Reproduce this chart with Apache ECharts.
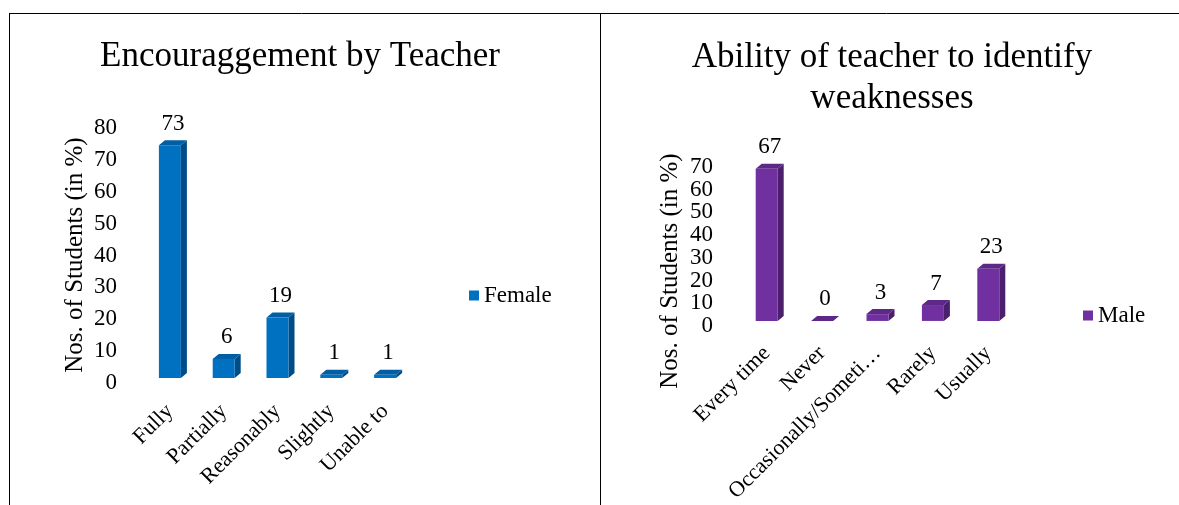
<!DOCTYPE html>
<html>
<head>
<meta charset="utf-8">
<script src="https://cdn.jsdelivr.net/npm/echarts@6/dist/echarts.min.js"></script>
<style>
  html, body { margin: 0; padding: 0; background: #fff; }
  #chart { width: 1179px; height: 505px; }
</style>
</head>
<body>
<div id="chart"></div>
<script>
const encCategories = ['Fully', 'Partially', 'Reasonably', 'Slightly', 'Unable to']
const encFemale = [73, 6, 19, 1, 1]
const encTicks = [0, 10, 20, 30, 40, 50, 60, 70, 80]

const abilityCategories = ['Every time', 'Never', 'Occasionally/Someti…', 'Rarely', 'Usually']
const abilityMale = [67, 0, 3, 7, 23]
const abilityTicks = [0, 10, 20, 30, 40, 50, 60, 70]

const FONT = '"Liberation Serif", "Times New Roman", serif'

// Excel-style 3D column: front face, dark side, top, value label on top
function bar3d(front, side, top) {
  return function (params, api) {
    const v = api.value(1)
    const p = api.coord([api.value(0), v])
    const p0 = api.coord([api.value(0), 0])
    const w = 22, dx = 6, dy = 5, lift = 5
    const x0 = p[0] - w / 2, x1 = p[0] + w / 2
    const yb = p0[1] - lift, yt = p[1] - lift
    return {
      type: 'group',
      children: [
        { type: 'polygon', shape: { points: [[x1, yb], [x1 + dx, yb - dy], [x1 + dx, yt - dy], [x1, yt]] }, style: { fill: side } },
        { type: 'polygon', shape: { points: [[x0, yt], [x0 + dx, yt - dy], [x1 + dx, yt - dy], [x1, yt]] }, style: { fill: top } },
        { type: 'rect', shape: { x: x0, y: yt, width: w, height: yb - yt }, style: { fill: front } },
        {
          type: 'text',
          style: {
            text: String(v), x: p[0] + 3, y: yt - dy - 5,
            align: 'center', verticalAlign: 'bottom',
            font: '23px ' + FONT, fill: '#000'
          }
        }
      ]
    }
  }
}

const axisLabelStyle = {
  color: '#000', fontFamily: FONT, fontSize: 23,
  showMinLabel: true, showMaxLabel: true, hideOverlap: false
}

// hidden value axis for the bars
function valueAxis(gridIndex, ticks) {
  return {
    gridIndex, type: 'value', min: ticks[0], max: ticks[ticks.length - 1], interval: 10,
    show: false, splitLine: { show: false }
  }
}

// visible tick labels (every label forced on; the right chart's 23px spacing is tight)
function tickAxis(gridIndex, ticks) {
  return {
    gridIndex, type: 'category', data: ticks.map(String), boundaryGap: false, position: 'left',
    axisLine: { show: false }, axisTick: { show: false }, splitLine: { show: false },
    axisLabel: { ...axisLabelStyle, margin: 26, interval: 0 }
  }
}

const chart = echarts.init(document.getElementById('chart'), null, { renderer: 'canvas' })

chart.setOption({
  animation: false,
  backgroundColor: '#fff',
  grid: [
    { left: 143, top: 128, width: 269, height: 255 },
    { left: 739, top: 167, width: 277, height: 161 },
  ],
  legend: [
    {
      data: ['Female'], left: 469, top: 284, padding: 0, icon: 'rect', itemWidth: 10, itemHeight: 10,
      textStyle: { color: '#000', fontFamily: FONT, fontSize: 23 }
    },
    {
      data: ['Male'], left: 1083, top: 304, padding: 0, icon: 'rect', itemWidth: 10, itemHeight: 10,
      textStyle: { color: '#000', fontFamily: FONT, fontSize: 23 }
    },
  ],
  xAxis: [
    {
      gridIndex: 0, type: 'category', data: encCategories,
      axisLine: { show: false }, axisTick: { show: false },
      axisLabel: { ...axisLabelStyle, fontSize: 22, rotate: 45, margin: 25, interval: 0 }
    },
    {
      gridIndex: 1, type: 'category', data: abilityCategories,
      axisLine: { show: false }, axisTick: { show: false },
      axisLabel: { ...axisLabelStyle, fontSize: 22, rotate: 45, margin: 24, interval: 0 }
    },
  ],
  yAxis: [
    valueAxis(0, encTicks),
    tickAxis(0, encTicks),
    valueAxis(1, abilityTicks),
    tickAxis(1, abilityTicks),
  ],
  series: [
    {
      name: 'Female', type: 'custom', xAxisIndex: 0, yAxisIndex: 0,
      itemStyle: { color: '#0070C0' },
      renderItem: bar3d('#0070C0', '#004C86', '#005EA4'),
      encode: { x: 0, y: 1 },
      data: encFemale.map((v, i) => [i, v]),
    },
    {
      name: 'Male', type: 'custom', xAxisIndex: 1, yAxisIndex: 2,
      itemStyle: { color: '#7030A0' },
      renderItem: bar3d('#7030A0', '#4B1F6C', '#5D2886'),
      encode: { x: 0, y: 1 },
      data: abilityMale.map((v, i) => [i, v]),
    },
  ],
  graphic: [
    { type: 'line', shape: { x1: 9, y1: 13.5, x2: 1179, y2: 13.5 }, style: { stroke: '#000', lineWidth: 1 } },
    { type: 'line', shape: { x1: 9.5, y1: 13, x2: 9.5, y2: 505 }, style: { stroke: '#000', lineWidth: 1 } },
    { type: 'line', shape: { x1: 600.5, y1: 13, x2: 600.5, y2: 505 }, style: { stroke: '#000', lineWidth: 1 } },
    {
      type: 'text', x: 300, y: 57,
      style: { text: 'Encouraggement by Teacher', align: 'center', verticalAlign: 'middle', font: '35px ' + FONT, fill: '#000' }
    },
    {
      type: 'text', x: 892, y: 78,
      style: { text: 'Ability of teacher to identify\nweaknesses', align: 'center', verticalAlign: 'middle', lineHeight: 41, font: '35px ' + FONT, fill: '#000' }
    },
    {
      type: 'text', x: 75, y: 255, rotation: Math.PI / 2,
      style: { text: 'Nos. of Students (in %)', align: 'center', verticalAlign: 'middle', font: '25px ' + FONT, fill: '#000' }
    },
    {
      type: 'text', x: 670, y: 271, rotation: Math.PI / 2,
      style: { text: 'Nos. of Students (in %)', align: 'center', verticalAlign: 'middle', font: '25px ' + FONT, fill: '#000' }
    },
  ],
})
</script>
</body>
</html>
